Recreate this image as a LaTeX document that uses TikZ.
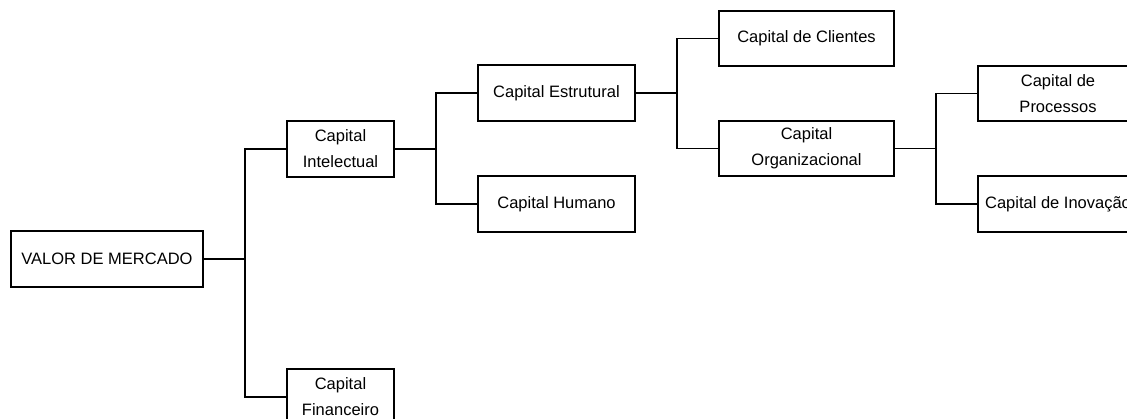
\documentclass[tikz,border=0pt]{standalone}
\usepackage{fontspec}
\setmainfont{Liberation Sans}
\begin{document}
\begin{tikzpicture}[x=1pt,y=-1pt,
  box/.style={draw=black, line width=1.5pt, rectangle, inner sep=0pt, outer sep=0pt,
    align=center, font=\fontsize{16.5}{26}\selectfont},
  link/.style={draw=black, line width=1.5pt}]
\useasboundingbox (0,0) rectangle (1127,418);
\clip (0,0) rectangle (1127,418);
\fill[white] (0,0) rectangle (1127,418);

% boxes of the hierarchy
\node[box, minimum width=192, minimum height=56] (valor)  at (107,259)   {VALOR DE MERCADO};
\node[box, minimum width=107, minimum height=56] (intel)  at (340.5,149) {Capital\\Intelectual};
\node[box, minimum width=107, minimum height=56] (finan)  at (340.5,397) {Capital\\Financeiro};
\node[box, minimum width=157, minimum height=56] (estr)   at (556.5,93)  {Capital Estrutural};
\node[box, minimum width=157, minimum height=56] (human)  at (556.5,204) {Capital Humano};
\node[box, minimum width=175, minimum height=55] (client) at (806.5,38.5){Capital de Clientes};
\node[box, minimum width=175, minimum height=55] (organ)  at (806.5,148.5){Capital\\Organizacional};
\node[box, minimum width=160, minimum height=55] (proc)   at (1058,93.5) {Capital de\\Processos};
\node[box, minimum width=160, minimum height=56] (inov)   at (1058,204)  {Capital de Inovação};

% elbow connectors
\draw[link] (valor.east) -- ++(42,0) coordinate (j1);
\draw[link] (intel.west) -| (j1);
\draw[link] (finan.west) -| (j1);

\draw[link] (intel.east) -- ++(42,0) coordinate (j2);
\draw[link] (estr.west) -| (j2);
\draw[link] (human.west) -| (j2);

\draw[link] (estr.east) -- ++(42,0) coordinate (j3);
\draw[link] (client.west) -| (j3);
\draw[link] (organ.west) -| (j3);

\draw[link] (organ.east) -- ++(42,0) coordinate (j4);
\draw[link] (proc.west) -| (j4);
\draw[link] (inov.west) -| (j4);
\end{tikzpicture}
\end{document}
